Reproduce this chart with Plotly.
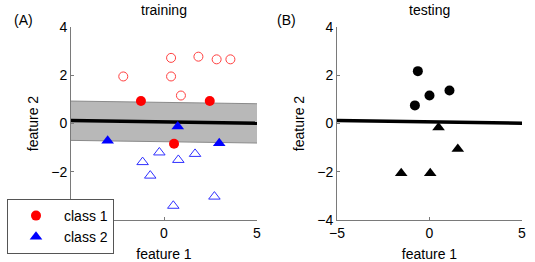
import plotly.graph_objects as go

# ---- data ----
train_c1_open_x = [-2.19, 0.38, 0.38, 1.85, 2.83, 3.57, 0.91]
train_c1_open_y = [1.95, 2.72, 1.95, 2.77, 2.66, 2.66, 1.16]
train_c1_sv_x = [-1.24, 2.46, 0.54]
train_c1_sv_y = [0.93, 0.93, -0.84]
train_c2_sv_x = [-3.03, 2.97, 0.74]
train_c2_sv_y = [-0.72, -0.82, -0.12]
train_c2_open_x = [-0.25, -1.15, 0.77, 1.67, -0.74, 2.71, 0.50]
train_c2_open_y = [-1.20, -1.60, -1.51, -1.26, -2.16, -3.03, -3.41]

test_c1_x = [-0.63, -0.79, 0.00, 1.08]
test_c1_y = [2.17, 0.75, 1.16, 1.37]
test_c2_x = [0.49, 1.53, -1.53, 0.04]
test_c2_y = [-0.17, -1.06, -2.06, -2.06]

line_x = [-5, 5]
line_y = [0.12, 0.01]
margin_upper = [0.93, 0.82]
margin_lower = [-0.70, -0.81]

x_ticks = [-5, 0, 5]
y_ticks = [-4, -2, 0, 2, 4]
# left panel: labels under the legend box are hidden
x_ticktext_left = ["", "0", "5"]
y_ticktext_left = ["", "\u22122", "0", "2", "4"]

FONT = "Liberation Sans, Arial, sans-serif"
W, H = 535, 262

fig = go.Figure()

# margin band (left panel)
fig.add_trace(go.Scatter(x=line_x, y=margin_lower, mode="lines",
                         line=dict(color="#8a8a8a", width=1),
                         showlegend=False, xaxis="x", yaxis="y"))
fig.add_trace(go.Scatter(x=line_x, y=margin_upper, mode="lines", fill="tonexty",
                         fillcolor="#b8b8b8", line=dict(color="#8a8a8a", width=1),
                         showlegend=False, xaxis="x", yaxis="y"))
fig.add_trace(go.Scatter(x=line_x, y=line_y, mode="lines",
                         line=dict(color="black", width=3.5),
                         showlegend=False, xaxis="x", yaxis="y"))

# training points
fig.add_trace(go.Scatter(x=train_c1_open_x, y=train_c1_open_y, mode="markers",
                         marker=dict(symbol="circle-open", size=9, color="#ff4040",
                                     line=dict(width=1)),
                         showlegend=False, xaxis="x", yaxis="y"))
fig.add_trace(go.Scatter(x=train_c2_open_x, y=train_c2_open_y, mode="markers",
                         marker=dict(symbol="triangle-up-open", size=10, color="#3030ff",
                                     line=dict(width=1)),
                         showlegend=False, xaxis="x", yaxis="y"))
fig.add_trace(go.Scatter(x=train_c1_sv_x, y=train_c1_sv_y, mode="markers", name="class 1",
                         marker=dict(symbol="circle", size=10, color="#ff0000"),
                         showlegend=True, xaxis="x", yaxis="y"))
fig.add_trace(go.Scatter(x=train_c2_sv_x, y=train_c2_sv_y, mode="markers", name="class 2",
                         marker=dict(symbol="triangle-up", size=11, color="#0000ff"),
                         showlegend=True, xaxis="x", yaxis="y"))

# testing panel
fig.add_trace(go.Scatter(x=line_x, y=line_y, mode="lines",
                         line=dict(color="black", width=3.5),
                         showlegend=False, xaxis="x2", yaxis="y2"))
fig.add_trace(go.Scatter(x=test_c1_x, y=test_c1_y, mode="markers",
                         marker=dict(symbol="circle", size=10, color="black"),
                         showlegend=False, xaxis="x2", yaxis="y2"))
fig.add_trace(go.Scatter(x=test_c2_x, y=test_c2_y, mode="markers",
                         marker=dict(symbol="triangle-up", size=11, color="black"),
                         showlegend=False, xaxis="x2", yaxis="y2"))

ydom = [1 - 220 / H, 1 - 27 / H]
axis_common = dict(showgrid=False, zeroline=False, showline=True, linecolor="#7a7a7a",
                   linewidth=1, ticks="inside", ticklen=3, tickcolor="#7a7a7a",
                   tickfont=dict(family=FONT, size=14, color="black"),
                   automargin=False)

fig.update_layout(
    width=W, height=H,
    margin=dict(l=0, r=0, t=0, b=0),
    paper_bgcolor="white", plot_bgcolor="white",
    font=dict(family=FONT, size=14, color="black"),
    xaxis=dict(domain=[71 / W, 257 / W], range=[-5, 5], tickvals=x_ticks,
               ticktext=x_ticktext_left,
               title=dict(text="feature 1", standoff=10, font=dict(size=14)), **axis_common),
    yaxis=dict(domain=ydom, range=[-4, 4], tickvals=y_ticks, ticktext=y_ticktext_left,
               title=dict(text="feature 2", standoff=9, font=dict(size=14)), **axis_common),
    xaxis2=dict(domain=[337 / W, 522 / W], range=[-5, 5], tickvals=x_ticks, anchor="y2",
                title=dict(text="feature 1", standoff=10, font=dict(size=14)), **axis_common),
    yaxis2=dict(domain=ydom, range=[-4, 4], tickvals=y_ticks, anchor="x2",
                title=dict(text="feature 2", standoff=9, font=dict(size=14)), **axis_common),
    showlegend=True,
    legend=dict(x=7 / W, y=1 - 199 / H, xanchor="left", yanchor="top",
                bgcolor="white", bordercolor="#555555", borderwidth=1,
                font=dict(family=FONT, size=14, color="black"),
                itemwidth=46, tracegroupgap=0, traceorder="normal",
                entrywidth=104, entrywidthmode="pixels"),
    annotations=[
        dict(text="training", xref="x domain", yref="paper", x=0.5, y=1 - 10 / H,
             xanchor="center", yanchor="middle", showarrow=False, font=dict(size=14)),
        dict(text="testing", xref="x2 domain", yref="paper", x=0.5, y=1 - 10 / H,
             xanchor="center", yanchor="middle", showarrow=False, font=dict(size=14)),
        dict(text="(A)", xref="paper", yref="paper", x=23 / W, y=1 - 20 / H,
             xanchor="center", yanchor="middle", showarrow=False, font=dict(size=14)),
        dict(text="(B)", xref="paper", yref="paper", x=286 / W, y=1 - 20 / H,
             xanchor="center", yanchor="middle", showarrow=False, font=dict(size=14)),
    ],
)

fig.write_html("out.html", config={"displayModeBar": False},
               post_script="document.body.style.margin='0px';")
